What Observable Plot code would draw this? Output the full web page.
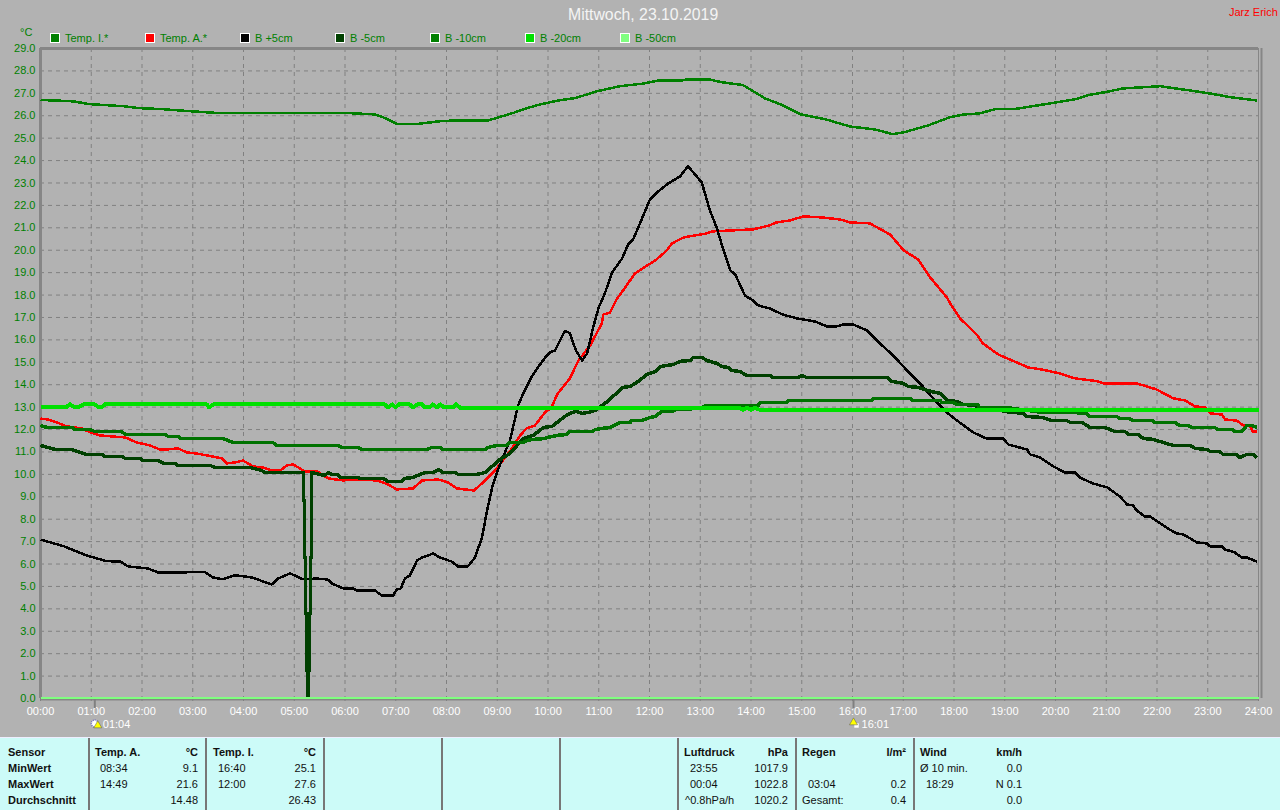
<!DOCTYPE html>
<html><head><meta charset="utf-8">
<script src="https://cdn.jsdelivr.net/npm/d3@7"></script>
<script src="https://cdn.jsdelivr.net/npm/@observablehq/plot@0.6"></script>
<style>
html,body{margin:0;padding:0;background:#b2b2b2;}
#page{position:relative;width:1280px;height:810px;overflow:hidden;font-family:"Liberation Sans",Arial,sans-serif;background:#b2b2b2;}
#chart{position:absolute;left:0;top:0;}
.abs{position:absolute;white-space:nowrap;line-height:14px;}
#table{position:absolute;left:0;top:737px;width:1280px;height:73px;background:#ccfbf8;border-top:1px solid #eef;box-sizing:border-box;font-size:11px;color:#111;}
.sep{position:absolute;top:0;width:2px;height:73px;background:#777;}
.sw{position:absolute;width:8px;height:8px;border:1px solid #fff;top:33px;}
</style></head><body>
<div id="page"><div id="chart"></div>
<div id="table"></div></div>
<script>
const yTicks = d3.range(0, 30);
const hourTicks = d3.range(0, 25);
const title = "Mittwoch, 23.10.2019";
const author = "Jarz Erich";
const legendNames = ["Temp. I.*","Temp. A.*","B +5cm","B -5cm","B -10cm","B -20cm","B -50cm"];
const legendColors = ["#008000","#ff0000","#000000","#004000","#008000","#00e000","#80ff80"];

const tempIH = [0,.3,.65,.96,1.66,1.93,2.37,2.89,3.52,6.06,6.59,6.81,7.03,7.42,7.85,8.17,8.82,9.31,9.57,9.84,10.2,10.54,10.98,11.42,11.86,12.2,12.66,12.74,13.17,13.44,13.84,14.28,14.59,14.98,15.47,15.95,16.44,16.79,17.01,17.49,17.93,18.2,18.5,18.8,19.2,19.56,20.03,20.42,20.62,21.02,21.33,21.8,22.06,22.32,22.65,23.05,23.44,23.97];
const tempIV = [26.7,26.68,26.64,26.52,26.42,26.34,26.3,26.21,26.12,26.12,26.06,25.88,25.63,25.63,25.75,25.79,25.79,26.12,26.33,26.5,26.68,26.79,27.1,27.32,27.43,27.58,27.58,27.62,27.62,27.49,27.37,26.77,26.5,26.06,25.84,25.52,25.39,25.18,25.26,25.57,25.94,26.06,26.1,26.29,26.3,26.43,26.6,26.75,26.91,27.07,27.22,27.28,27.32,27.23,27.13,26.99,26.83,26.68];

const tempAH = [0,.15,.32,.52,.82,.98,1.17,1.41,1.67,1.9,2.16,2.35,2.49,2.71,2.88,3.08,3.38,3.58,3.67,3.83,3.99,4.19,4.39,4.56,4.72,4.86,4.98,5.21,5.45,5.67,5.96,6.23,6.63,6.85,7.02,7.34,7.52,7.84,8.03,8.21,8.54,8.72,8.99,9.29,9.45,9.58,9.74,9.94,10.07,10.18,10.43,10.6,10.83,11.06,11.09,11.22,11.35,11.55,11.71,12.14,12.34,12.44,12.67,13.13,13.23,14.04,14.37,14.5,14.77,15.03,15.42,15.76,15.95,16.34,16.74,17.01,17.29,17.53,17.86,17.96,18.12,18.46,18.57,18.87,19.24,19.46,19.73,20.09,20.39,20.84,20.94,21.6,21.99,22.32,22.55,22.75,22.95,23.05,23.28,23.34,23.57,23.7,23.83,23.89,23.97];
const tempAV = [12.49,12.45,12.32,12.14,12.05,11.87,11.74,11.69,11.65,11.42,11.29,11.11,11.11,11.16,10.98,10.93,10.8,10.71,10.49,10.53,10.62,10.35,10.31,10.17,10.17,10.4,10.44,10.13,10.13,9.82,9.73,9.77,9.73,9.55,9.33,9.37,9.73,9.77,9.64,9.37,9.28,9.64,10.26,11.16,11.74,12.05,12.18,12.76,12.99,13.57,14.28,15.08,15.75,16.73,17.13,17.22,17.8,18.43,18.96,19.59,19.99,20.3,20.57,20.75,20.84,20.93,21.11,21.24,21.33,21.51,21.46,21.37,21.24,21.2,20.7,19.99,19.59,18.79,17.89,17.49,16.96,16.2,15.84,15.35,14.99,14.77,14.68,14.5,14.28,14.15,14.06,14.06,13.79,13.39,13.3,13.03,12.99,12.72,12.67,12.45,12.4,12.18,12.14,11.91,11.91];

const plus5H = [0,.45,.91,1.3,1.57,1.73,2.12,2.32,3.24,3.4,3.6,3.83,4.17,4.39,4.56,4.68,4.92,5.17,5.45,5.66,5.74,5.97,6.16,6.23,6.59,6.72,6.95,7.02,7.1,7.18,7.28,7.42,7.52,7.74,7.87,8.1,8.23,8.42,8.56,8.7,8.8,8.9,9.01,9.19,9.25,9.41,9.51,9.66,9.8,9.94,10.04,10.14,10.33,10.43,10.55,10.67,10.77,10.89,11,11.12,11.26,11.46,11.58,11.68,11.85,12.01,12.17,12.37,12.6,12.76,13.03,13.19,13.33,13.43,13.59,13.69,13.88,14.04,14.14,14.37,14.63,14.9,15.26,15.5,15.69,15.81,16.01,16.29,16.54,16.8,17.13,17.33,17.59,17.88,18.06,18.38,18.64,18.97,19.07,19.44,19.5,19.7,19.96,20.19,20.39,20.48,20.74,21.02,21.27,21.41,21.53,21.6,21.76,21.86,22.21,22.39,22.52,22.79,22.98,23.05,23.28,23.34,23.53,23.67,23.77,23.97];
const plus5V = [7.09,6.8,6.38,6.13,6.11,5.89,5.8,5.62,5.64,5.4,5.32,5.5,5.4,5.22,5.09,5.35,5.58,5.32,5.35,5.31,5.13,4.91,4.91,4.82,4.82,4.6,4.6,4.86,4.91,5.35,5.49,6.16,6.29,6.47,6.29,6.11,5.89,5.89,6.29,7.18,8.39,9.42,10.17,11.2,11.5,13.07,13.6,14.28,14.77,15.2,15.44,15.53,16.4,16.3,15.53,15.08,15.39,16.56,17.45,18.07,19,19.63,20.26,20.5,21.4,22.27,22.62,22.98,23.29,23.75,23.02,21.78,20.97,20.2,19.1,18.92,17.98,17.76,17.54,17.4,17.13,16.96,16.82,16.6,16.6,16.69,16.69,16.42,15.84,15.31,14.5,14.06,13.39,12.72,12.4,11.87,11.6,11.6,11.33,11.11,10.89,10.75,10.35,10.08,10.08,9.86,9.59,9.42,9.01,8.66,8.61,8.39,8.12,8.12,7.59,7.36,7.32,6.96,6.92,6.78,6.78,6.65,6.52,6.29,6.29,6.11];

const minus5H = [0,.29,.61,.91,1.21,1.27,1.6,1.67,1.96,2.02,2.32,2.42,2.65,2.69,3.34,3.44,4.13,4.36,4.42,5.178,5.178,5.198,5.198,5.218,5.218,5.238,5.238,5.258,5.258,5.278,5.278,5.297,5.297,5.317,5.317,5.337,5.337,5.6,5.67,5.74,5.86,5.9,6.26,6.3,6.75,6.85,7.12,7.18,7.34,7.48,7.58,7.74,7.84,7.93,8.17,8.23,8.6,8.76,8.92,9.05,9.25,9.51,9.71,9.91,10.08,10.33,10.43,10.56,10.67,10.79,10.93,11.12,11.48,11.62,11.78,11.95,12.11,12.21,12.47,12.6,12.8,12.86,13.03,13.13,13.33,13.43,13.55,13.62,13.78,13.92,14.37,14.44,14.93,15,15.1,16.7,16.77,17,17.1,17.29,17.47,17.73,17.88,18.06,18.18,18.42,18.46,18.87,18.97,19.36,19.44,19.73,19.93,20.22,20.29,20.52,20.68,20.98,21.17,21.37,21.43,21.63,21.73,21.92,22.32,22.65,22.75,22.98,23.05,23.24,23.3,23.57,23.63,23.77,23.9,23.97];
const minus5V = [11.29,11.11,11.11,10.89,10.89,10.8,10.8,10.71,10.71,10.62,10.62,10.49,10.49,10.4,10.4,10.31,10.31,10.17,10.08,10.08,8.84,8.84,6.3,6.3,3.8,3.8,1.25,1.25,.05,.05,1.25,1.25,3.8,3.8,6.3,6.3,10.08,9.95,10.08,10,10,9.86,9.86,9.82,9.82,9.68,9.68,9.82,9.86,10,10.08,10.08,10.22,10.08,10.08,10,10,10.08,10.4,10.66,10.93,11.6,11.74,12.09,12.14,12.58,12.72,12.81,12.72,12.76,12.85,13.16,13.88,13.92,14.15,14.46,14.59,14.81,14.9,15.04,15.08,15.22,15.22,15.08,14.95,14.81,14.77,14.64,14.59,14.41,14.41,14.32,14.32,14.41,14.32,14.32,14.15,14.06,13.92,13.88,13.74,13.61,13.3,13.25,13.12,13.07,12.99,12.99,12.81,12.72,12.58,12.54,12.4,12.4,12.32,12.32,12.09,12.09,11.91,11.91,11.78,11.78,11.6,11.56,11.29,11.29,11.16,11.11,11.02,11.02,10.89,10.89,10.75,10.89,10.89,10.75];

const minus10H = [0,.13,.64,.68,.98,1.07,1.6,1.67,2.45,2.52,2.71,2.75,3.6,3.79,4.58,4.66,5.86,5.94,6.26,6.33,7.62,7.71,7.87,7.93,8.76,8.82,8.99,9.19,9.25,9.51,9.58,9.71,9.94,10,10.18,10.37,10.43,10.87,10.93,11.06,11.22,11.38,11.42,11.62,11.65,11.85,12.01,12.11,12.24,12.44,12.54,12.8,12.86,13.03,13.1,14.14,14.18,14.7,14.75,16.38,16.42,17.13,17.19,17.73,17.76,17.98,18.06,18.46,18.5,19,19.75,20.42,20.48,20.6,20.68,21.21,21.26,21.45,21.53,21.9,21.96,22.35,22.45,22.6,22.69,23.14,23.19,23.48,23.53,23.67,23.77,23.87,23.97];
const minus10V = [12.18,12.09,12.09,12,12,11.91,11.91,11.78,11.78,11.69,11.69,11.6,11.6,11.42,11.42,11.29,11.29,11.2,11.2,11.11,11.11,11.2,11.2,11.11,11.11,11.2,11.29,11.29,11.42,11.42,11.51,11.56,11.6,11.65,11.74,11.78,11.91,11.91,12,12.05,12.09,12.27,12.32,12.32,12.4,12.4,12.54,12.58,12.81,12.81,12.9,12.9,12.95,12.99,13.07,13.07,13.2,13.2,13.3,13.3,13.39,13.39,13.3,13.3,13.2,13.2,13.12,13.12,12.99,12.99,12.76,12.76,12.72,12.72,12.58,12.58,12.49,12.49,12.4,12.4,12.32,12.32,12.18,12.18,12.09,12.09,12,12,11.91,11.91,12.18,12.18,12.09];

const minus20H = [0,.5,.58,.68,.75,.84,1.07,1.15,1.2,1.27,3.28,3.32,3.4,6.79,6.85,6.93,7,7.06,7.28,7.34,7.42,7.52,7.58,7.67,7.73,7.81,7.88,7.95,8.13,8.19,8.27,13.75,13.85,13.92,14.0,14.08,14.17,14.2,24];
const minus20V = [12.99,12.99,13.12,12.99,12.99,13.12,13.12,12.99,12.99,13.12,13.12,12.99,13.12,13.12,12.99,13.12,12.99,13.12,13.12,12.99,13.12,13.12,12.99,12.99,13.12,12.99,13.12,12.99,12.99,13.12,12.97,12.97,12.88,12.97,12.88,12.97,12.88,12.88,12.88];

const minus50H = [0,24];
const minus50V = [.03,.03];

const sunEvents = [1.07, 16.02];
const sunLabels = ["01:04", "16:01"];

const rows = (h, v) => h.map((x, i) => ({h: x, v: v[i]}));
const lineMark = (h, v, stroke, w) => Plot.line(rows(h, v), {x: "h", y: "v", stroke, strokeWidth: w, curve: "linear", shapeRendering: "crispEdges", strokeLinejoin: "round", strokeLinecap: "butt"});
const pad = n => String(n).padStart(2, "0");

const plot = Plot.plot({
  width: 1280, height: 737,
  marginLeft: 40, marginRight: 22, marginTop: 48, marginBottom: 39,
  style: {background: "transparent", fontFamily: '"Liberation Sans",Arial,sans-serif', fontSize: "11px", overflow: "visible"},
  x: {domain: [0, 24], axis: null},
  y: {domain: [0, 29], axis: null},
  marks: [
    Plot.gridX(hourTicks, {stroke: "#808080", strokeOpacity: 1, strokeDasharray: "4,4"}),
    Plot.gridY(yTicks, {stroke: "#808080", strokeOpacity: 1, strokeDasharray: "4,4"}),
    Plot.ruleX([0], {stroke: "#868686", strokeWidth: 3}),
    Plot.ruleX([24], {stroke: "#868686", strokeWidth: 1}),
    Plot.ruleX([24], {stroke: "#868686", strokeWidth: 2, dx: 3}),
    Plot.ruleY([29], {stroke: "#868686", strokeWidth: 3}),
    Plot.ruleY([0], {stroke: "#868686", strokeWidth: 2, dy: 1}),
    Plot.axisY(yTicks, {anchor: "left", tickSize: 0, tickPadding: 5, label: null, fill: "#008000", stroke: "none", tickFormat: d => d.toFixed(1), fontSize: 11}),
    Plot.axisX(hourTicks, {anchor: "bottom", tickSize: 3, tickPadding: 6, label: null, stroke: "#808080", fill: "#ffffff", tickFormat: d => pad(d) + ":00", fontSize: 11, textStroke: "none"}),
    Plot.ruleX(sunEvents, {y1: 0, y2: 0, insetBottom: -10, stroke: "#808080", strokeWidth: 2}),
    Plot.dot([sunEvents[0]], {x: d => d, y: 0, dy: 25, r: 3.5, fill: "#fff", stroke: "#6a6ac0", strokeDasharray: "1,1"}),
    Plot.dot([sunEvents[0]], {x: d => d, y: 0, dy: 27, dx: 3, symbol: "triangle", r: 3, fill: "#ffff00", stroke: "#555", strokeWidth: .5}),
    Plot.dot([sunEvents[1]], {x: d => d, y: 0, dy: 27, dx: 3, symbol: "square", r: 2.5, fill: "#fff"}),
    Plot.dot([sunEvents[1]], {x: d => d, y: 0, dy: 24, symbol: "triangle", r: 3, fill: "#ffff00", stroke: "#555", strokeWidth: .5}),
    Plot.text(sunEvents, {x: d => d, y: 0, dy: 26, dx: 8, text: (d, i) => sunLabels[i], textAnchor: "start", fill: "#fff", fontSize: 11}),
    lineMark(tempIH, tempIV, "#008000", 2.5),
    lineMark(tempAH, tempAV, "#ff0000", 2.5),
    lineMark(plus5H, plus5V, "#000000", 2.5),
    lineMark(minus5H, minus5V, "#004000", 3.5),
    lineMark(minus10H, minus10V, "#007200", 3.5),
    lineMark(minus20H, minus20V, "#00e000", 4),
    lineMark(minus50H, minus50V, "#80ff80", 1.5)
  ]
});
document.getElementById("chart").append(plot);

const page = document.getElementById("page");
const addText = (parent, s, x, y, o = {}) => {
  const el = document.createElement("div");
  el.className = "abs"; el.textContent = s;
  el.style.top = (y - 7) + "px";
  if (o.right !== undefined) el.style.right = (1280 - o.right) + "px"; else el.style.left = x + "px";
  el.style.fontSize = (o.size || 11) + "px";
  el.style.color = o.color || "#111";
  if (o.bold) el.style.fontWeight = "bold";
  parent.append(el);
};
addText(page, title, 568, 15, {size: 15.8, color: "#f4f4f4"});
addText(page, author, 1229, 12, {size: 11, color: "#ff0000"});
addText(page, "°C", 20, 32, {size: 11, color: "#008000"});
legendNames.forEach((n, i) => {
  const x = 50 + 95 * i;
  const s = document.createElement("div");
  s.className = "sw"; s.style.left = x + "px"; s.style.background = legendColors[i];
  page.append(s);
  addText(page, n, x + 15, 38, {color: "#008000"});
});

const table = document.getElementById("table");
const seps = [88, 205, 323, 441, 559, 677, 795, 913];
seps.forEach(x => { const s = document.createElement("div"); s.className = "sep"; s.style.left = x + "px"; table.append(s); });
const rowY = [14, 30, 46, 62];
const sensorNames = ["Sensor", "MinWert", "MaxWert", "Durchschnitt"];
sensorNames.forEach((t, i) => addText(table, t, 8, rowY[i], {bold: true}));
const heads = [["Temp. A.", 95, "°C", 198], ["Temp. I.", 213, "°C", 316], ["Luftdruck", 684, "hPa", 788], ["Regen", 802, "l/m²", 906], ["Wind", 920, "km/h", 1022]];
heads.forEach(h => { addText(table, h[0], h[1], rowY[0], {bold: true}); addText(table, h[2], 0, rowY[0], {bold: true, right: h[3]}); });
const cells = [
  ["08:34", 100, "9.1", 198, 1], ["14:49", 100, "21.6", 198, 2], ["", 100, "14.48", 198, 3],
  ["16:40", 218, "25.1", 316, 1], ["12:00", 218, "27.6", 316, 2], ["", 218, "26.43", 316, 3],
  ["23:55", 690, "1017.9", 788, 1], ["00:04", 690, "1022.8", 788, 2], ["^0.8hPa/h", 685, "1020.2", 788, 3],
  ["03:04", 808, "0.2", 906, 2], ["Gesamt:", 802, "0.4", 906, 3],
  ["Ø 10 min.", 920, "0.0", 1022, 1], ["18:29", 926, "N 0.1", 1022, 2], ["", 920, "0.0", 1022, 3]
];
cells.forEach(c => { if (c[0]) addText(table, c[0], c[1], rowY[c[4]]); addText(table, c[2], 0, rowY[c[4]], {right: c[3]}); });
</script>
</body></html>
